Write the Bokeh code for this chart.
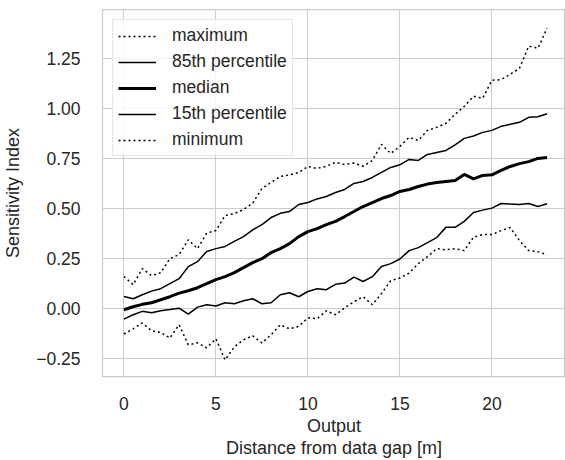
from bokeh.plotting import figure
from bokeh.embed import file_html
from bokeh.resources import INLINE
from bokeh.models import FixedTicker, CustomJSTickFormatter, Range1d

# ---- data ----
distance = [i * 0.5 for i in range(47)]  # 0 .. 23 m

maximum = [0.161, 0.12, 0.2, 0.165, 0.18, 0.25, 0.27, 0.344, 0.3, 0.377,
           0.39, 0.465, 0.475, 0.495, 0.527, 0.6, 0.63, 0.66, 0.668, 0.68,
           0.71, 0.7, 0.711, 0.73, 0.72, 0.727, 0.711, 0.74, 0.82, 0.775,
           0.81, 0.855, 0.84, 0.89, 0.905, 0.925, 0.97, 1.01, 1.06, 1.05,
           1.14, 1.143, 1.17, 1.2, 1.31, 1.3, 1.40]

p85 = [0.061, 0.05, 0.07, 0.088, 0.10, 0.125, 0.15, 0.21, 0.235, 0.286,
       0.30, 0.311, 0.336, 0.36, 0.394, 0.42, 0.455, 0.476, 0.485, 0.52,
       0.53, 0.548, 0.56, 0.58, 0.595, 0.625, 0.635, 0.655, 0.68, 0.705,
       0.718, 0.745, 0.74, 0.77, 0.78, 0.79, 0.818, 0.85, 0.862, 0.88,
       0.89, 0.91, 0.92, 0.93, 0.955, 0.958, 0.973]

median = [-0.005, 0.01, 0.022, 0.03, 0.045, 0.06, 0.078, 0.09, 0.105, 0.125,
          0.145, 0.16, 0.18, 0.205, 0.23, 0.25, 0.28, 0.30, 0.325, 0.36,
          0.385, 0.40, 0.42, 0.436, 0.46, 0.485, 0.51, 0.53, 0.55, 0.565,
          0.585, 0.595, 0.61, 0.622, 0.63, 0.635, 0.64, 0.67, 0.648, 0.665,
          0.668, 0.69, 0.71, 0.724, 0.734, 0.75, 0.755]

p15 = [-0.052, -0.03, -0.013, -0.02, -0.01, -0.004, 0.003, -0.027, 0.008, 0.02,
       0.014, 0.03, 0.025, 0.04, 0.05, 0.025, 0.03, 0.07, 0.08, 0.06,
       0.086, 0.1, 0.095, 0.122, 0.128, 0.158, 0.136, 0.16, 0.211, 0.225,
       0.248, 0.29, 0.305, 0.33, 0.355, 0.406, 0.406, 0.436, 0.48, 0.492,
       0.502, 0.525, 0.522, 0.52, 0.525, 0.51, 0.524]

minimum = [-0.126, -0.1, -0.071, -0.11, -0.118, -0.146, -0.08, -0.18, -0.17, -0.195,
           -0.15, -0.255, -0.19, -0.155, -0.135, -0.171, -0.13, -0.08, -0.1, -0.088,
           -0.045, -0.05, -0.01, -0.03, 0.005, 0.035, 0.06, 0.02, 0.076, 0.14,
           0.153, 0.178, 0.225, 0.26, 0.3, 0.294, 0.3, 0.29, 0.357, 0.37,
           0.37, 0.39, 0.405, 0.34, 0.29, 0.285, 0.269]

x_ticks = [0, 5, 10, 15, 20]
y_ticks = [-0.25, 0.0, 0.25, 0.5, 0.75, 1.0, 1.25]

FONT = "Liberation Sans"
TXT = "#262626"
GRID = "#cccccc"

p = figure(width=565, height=460, output_backend="svg", toolbar_location=None,
           x_range=Range1d(-1.164, 24.0), y_range=Range1d(-0.338, 1.493),
           min_border_left=98, min_border_right=0, min_border_top=9,
           min_border_bottom=83,
           background_fill_color="white", border_fill_color="white")

p.outline_line_color = GRID
p.outline_line_width = 1.25

for ax in (p.xaxis, p.yaxis):
    ax.axis_line_color = None
    ax.major_tick_line_color = None
    ax.minor_tick_line_color = None
    ax.major_label_text_font = FONT
    ax.major_label_text_font_size = "17.5px"
    ax.major_label_text_color = TXT
    ax.axis_label_text_font = FONT
    ax.axis_label_text_font_size = "18px"
    ax.axis_label_text_color = TXT
    ax.axis_label_text_font_style = "normal"

p.xaxis.ticker = FixedTicker(ticks=x_ticks)
p.yaxis.ticker = FixedTicker(ticks=y_ticks)
p.yaxis.formatter = CustomJSTickFormatter(
    code="return (tick < 0 ? '\u2212' : '') + Math.abs(tick).toFixed(2);")
p.xaxis.major_label_standoff = 14
p.yaxis.major_label_standoff = 16
p.xaxis.axis_label_standoff = 3
p.yaxis.axis_label_standoff = 10
p.xaxis.axis_label_text_line_height = 1.1
p.xaxis.axis_label = "Output\nDistance from data gap [m]"
p.yaxis.axis_label = "Sensitivity Index"

p.xgrid.grid_line_color = GRID
p.ygrid.grid_line_color = GRID
p.xgrid.grid_line_width = 1
p.ygrid.grid_line_width = 1

p.line(distance, maximum, line_color="black", line_width=1.5, line_dash="2 3",
       legend_label="maximum")
p.line(distance, p85, line_color="black", line_width=1.5,
       legend_label="85th percentile")
p.line(distance, median, line_color="black", line_width=3,
       legend_label="median")
p.line(distance, p15, line_color="black", line_width=1.5,
       legend_label="15th percentile")
p.line(distance, minimum, line_color="black", line_width=1.5, line_dash="2 3",
       legend_label="minimum")

lg = p.legend[0]
lg.location = "top_left"
lg.margin = 10
lg.padding = 5
lg.spacing = 5
lg.glyph_width = 38
lg.glyph_height = 20
lg.label_height = 20
lg.label_standoff = 16
lg.label_text_font = FONT
lg.label_text_font_size = "17.5px"
lg.label_text_color = TXT
lg.border_line_color = GRID
lg.border_line_width = 1
lg.background_fill_color = "white"
lg.background_fill_alpha = 0.8

open("out.html", "w").write(file_html(p, INLINE))
